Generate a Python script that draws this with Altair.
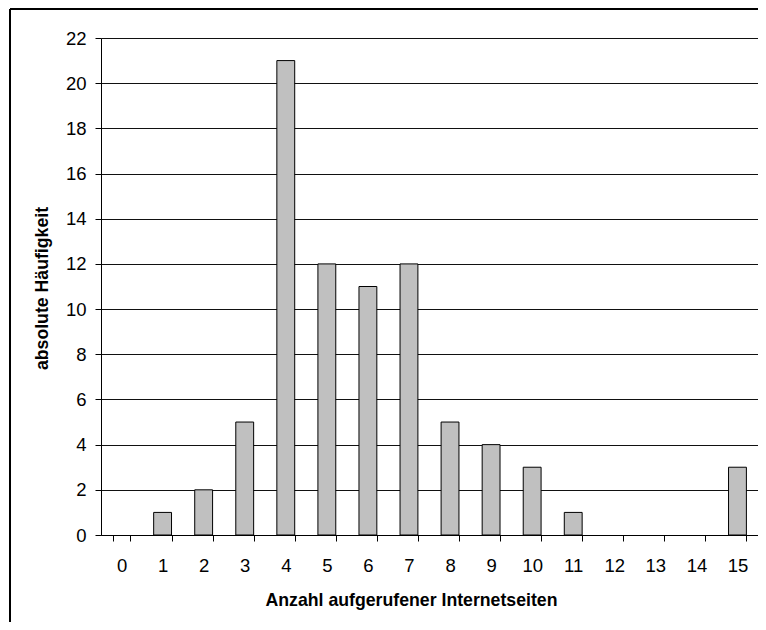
import altair as alt
import pandas as pd

categories = [str(i) for i in range(16)]
counts = [0, 1, 2, 5, 21, 12, 11, 12, 5, 4, 3, 1, 0, 0, 0, 3]

df = pd.DataFrame({"k": categories, "n": counts})

FONT = "Liberation Sans"

bars = alt.Chart(df).transform_filter(alt.datum.n > 0).mark_bar(
    fill="#c0c0c0", stroke="#000000", strokeWidth=1
).encode(
    x=alt.X(
        "k:N", sort=categories,
        scale=alt.Scale(domain=categories, paddingInner=0.565, paddingOuter=0.2825),
        axis=alt.Axis(
            title="Anzahl aufgerufener Internetseiten",
            labelAngle=0, tickBand="extent", tickSize=6,
            labelPadding=15, labelFontSize=18.5, labelFont=FONT,
            labelColor="#000", domainColor="#000", tickColor="#000",
            titleFont=FONT, titleFontSize=17.7, titleFontWeight="bold",
            titleColor="#000", titleX=310, titleY=65,
            titleBaseline="middle", titleAnchor="middle",
        ),
    ),
    y=alt.Y(
        "n:Q",
        scale=alt.Scale(domain=[0, 22]),
        axis=alt.Axis(
            title="absolute Häufigkeit",
            values=list(range(0, 23, 2)), tickSize=6, labelPadding=9,
            labelFontSize=18.5, labelFont=FONT, labelColor="#000",
            domainColor="#000", tickColor="#000",
            grid=True, gridColor="#111", gridWidth=1,
            titleFont=FONT, titleFontSize=17.7, titleFontWeight="bold",
            titleColor="#000", titleX=-59, titleY=250,
            titleBaseline="middle", titleAngle=270,
        ),
    ),
)

frame_left = alt.Chart(df).mark_rule(color="#000", strokeWidth=1.2, clip=False).encode(
    x=alt.value(-91), y=alt.value(-29), y2=alt.value(620)
)
frame_top = alt.Chart(df).mark_rule(color="#000", strokeWidth=1.5, clip=False).encode(
    x=alt.value(-91), x2=alt.value(700), y=alt.value(-29)
)

chart = alt.layer(bars, frame_left, frame_top).properties(
    width=657, height=497,
    autosize=alt.AutoSizeParams(type="none"),
    padding={"left": 93, "top": 30, "right": 0, "bottom": 87},
).configure_view(stroke="#999", strokeWidth=1.5).configure(background="white")

chart.save("out.html", embed_options={"renderer": "svg", "actions": False})
